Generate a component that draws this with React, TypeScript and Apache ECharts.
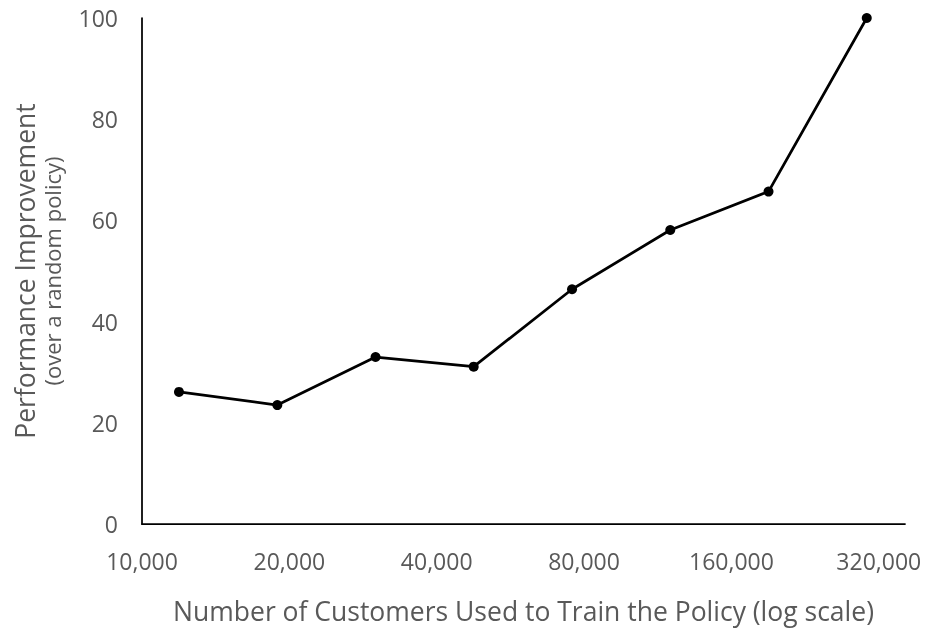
import React, { useEffect, useRef } from "react";
import * as echarts from "echarts";

const customers = [11900, 18900, 30000, 47600, 75600, 120000, 190500, 302400];
const improvement = [26.1, 23.5, 33.0, 31.1, 46.4, 58.1, 65.7, 100];
const xBase = 10000;
const xAxisEnd = 362000;
const yTicks = [0, 20, 40, 60, 80, 100];
const xTitle = "Number of Customers Used to Train the Policy (log scale)";
const yTitle = "Performance Improvement";
const ySubtitle = "(over a random policy)";

export default function App() {
  const ref = useRef<HTMLDivElement>(null);
  useEffect(() => {
    if (!ref.current) return;
    const chart = echarts.init(ref.current, null, { renderer: "svg" });
    const toLog = (c: number) => Math.log2(c / xBase);
    const font = "'Open Sans', sans-serif";
    chart.setOption({
      animation: false,
      textStyle: { fontFamily: font },
      grid: { left: 142, right: 24, top: 18, bottom: 109, containLabel: false },
      xAxis: {
        type: "value",
        min: 0,
        max: toLog(xAxisEnd),
        interval: 1,
        axisLine: { show: true, lineStyle: { color: "#000", width: 1.75 } },
        axisTick: { show: false },
        splitLine: { show: false },
        axisLabel: {
          color: "#595959",
          fontSize: 23,
          fontFamily: font,
          margin: 25,
          showMaxLabel: false,
          formatter: (v: number) =>
            Math.abs(v - Math.round(v)) < 1e-6
              ? Math.round(xBase * Math.pow(2, v)).toLocaleString("en-US")
              : "",
        },
        name: xTitle,
        nameLocation: "middle",
        nameGap: 73,
        nameTextStyle: { color: "#595959", fontSize: 26.5, fontFamily: font },
      },
      yAxis: {
        type: "value",
        min: yTicks[0],
        max: yTicks[yTicks.length - 1],
        interval: 20,
        axisLine: { show: true, lineStyle: { color: "#000", width: 1.75 } },
        axisTick: { show: false },
        splitLine: { show: false },
        axisLabel: { color: "#595959", fontSize: 23, fontFamily: font, margin: 24 },
        name: `{a|${yTitle}}\n{b|${ySubtitle}}`,
        nameLocation: "middle",
        nameGap: 78,
        nameTextStyle: {
          color: "#595959",
          fontFamily: font,
          rich: {
            a: { fontSize: 26.5, color: "#595959", fontFamily: font, lineHeight: 30 },
            b: { fontSize: 22, color: "#595959", fontFamily: font, lineHeight: 24 },
          },
        },
      },
      series: [
        {
          type: "line",
          data: customers.map((c, i) => [toLog(c), improvement[i]]),
          symbol: "circle",
          symbolSize: 10,
          showAllSymbol: true,
          lineStyle: { color: "#000", width: 2.75 },
          itemStyle: { color: "#000" },
        },
      ],
    });
    return () => chart.dispose();
  }, []);
  return (
    <div
      ref={ref}
      style={{ position: "fixed", left: 0, top: 0, width: 929, height: 633 }}
    />
  );
}
